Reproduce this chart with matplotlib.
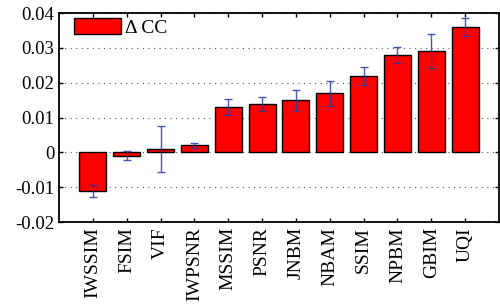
import numpy as np
import matplotlib
matplotlib.use("Agg")
import matplotlib.pyplot as plt

metrics = ['IWSSIM', 'FSIM', 'VIF', 'IWPSNR', 'MSSIM', 'PSNR', 'JNBM',
           'NBAM', 'SSIM', 'NPBM', 'GBIM', 'UQI']
delta_cc = [-0.011, -0.001, 0.001, 0.002, 0.013, 0.014, 0.015,
            0.017, 0.022, 0.028, 0.029, 0.036]
err = [0.0017, 0.0013, 0.0066, 0.0007, 0.0022, 0.002, 0.003,
       0.0036, 0.0026, 0.0022, 0.0049, 0.0026]

plt.rcParams['font.family'] = ['Liberation Serif', 'DejaVu Serif']

fig = plt.figure(figsize=(5, 3.05), dpi=100)
ax = fig.add_axes([0.118, 0.272, 0.88, 0.685])

x = np.arange(1, len(metrics) + 1)
ax.bar(x, delta_cc, width=0.8, color='#ff0000', edgecolor='black',
       linewidth=1.0, label='Δ CC', zorder=3)
ax.errorbar(x, delta_cc, yerr=err, fmt='none', ecolor='#2a3a9c',
            elinewidth=1.0, capsize=3, capthick=1.0, alpha=0.85, zorder=4)

ax.set_xlim(0, 13)
ax.set_ylim(-0.02, 0.04)
ax.set_yticks([-0.02, -0.01, 0, 0.01, 0.02, 0.03, 0.04])
ax.set_yticklabels(['-0.02', '-0.01', '0', '0.01', '0.02', '0.03', '0.04'])
ax.set_xticks(x)
ax.set_xticklabels(metrics, rotation=90)
ax.tick_params(axis='both', direction='in', top=True, right=True,
               labelsize=14, length=3, width=1)
ax.tick_params(axis='y', labelsize=13.5)
ax.yaxis.grid(True, linestyle=(0, (1, 4)), color='#555555', linewidth=0.8)
for s in ax.spines.values():
    s.set_linewidth(1.3)

ax.legend(loc='upper left', bbox_to_anchor=(0.034, 0.975), frameon=False,
          fontsize=14, handlelength=2.4, handleheight=0.9, handletextpad=0.25,
          borderaxespad=0, borderpad=0)

fig.savefig('out.png', dpi=100)
